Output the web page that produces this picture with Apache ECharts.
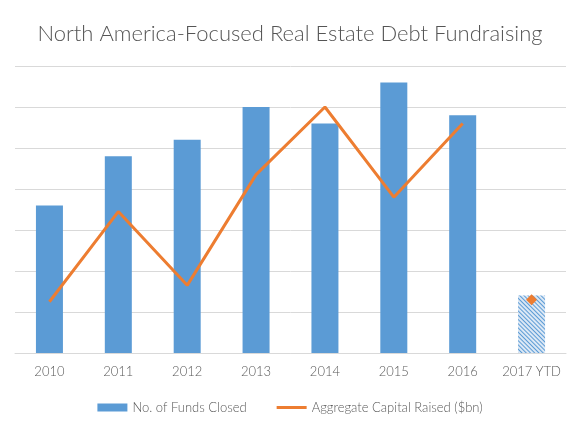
<!DOCTYPE html>
<html>
<head>
<meta charset="utf-8">
<script src="https://cdn.jsdelivr.net/npm/echarts@6/dist/echarts.min.js"></script>
<style>
  html, body { margin: 0; padding: 0; background: #fff; }
  #chart { width: 580px; height: 435px; }
</style>
</head>
<body>
<div id="chart"></div>
<script>
var years = ['2010', '2011', '2012', '2013', '2014', '2015', '2016', '2017 YTD'];
var fundsClosed = [18, 24, 26, 30, 28, 33, 29, 7];
var capitalRaised = [2.5, 6.9, 3.3, 8.7, 12.0, 7.6, 11.2, '-'];
var capitalYtd = ['-', '-', '-', '-', '-', '-', '-', 2.6];

var blue = '#5b9bd5', orange = '#ed7d31', grey = '#595959';

var chart = echarts.init(document.getElementById('chart'));

// last bar (year to date) is hatched
var barData = fundsClosed.map(function (v, i) {
  if (i < fundsClosed.length - 1) return v;
  return {
    value: v,
    itemStyle: {
      color: '#dce8f5',
      decal: {
        symbol: 'rect',
        color: blue,
        dashArrayX: [1, 0],
        dashArrayY: [1, 1.5],
        rotation: Math.PI / 4
      }
    }
  };
});

chart.setOption({
  animation: false,
  textStyle: { fontFamily: 'Lato, "Noto Sans", sans-serif' },
  title: {
    text: 'North America-Focused Real Estate Debt Fundraising',
    left: 'center',
    top: 18,
    textStyle: { color: '#555', fontSize: 22, fontWeight: 300 }
  },
  legend: {
    bottom: 16,
    left: 'center',
    itemGap: 30,
    itemWidth: 30,
    itemHeight: 8,
    textStyle: { color: grey, fontSize: 13, fontWeight: 300 },
    data: [
      { name: 'No. of Funds Closed', icon: 'rect' },
      { name: 'Aggregate Capital Raised ($bn)', icon: 'path://M0,0h30v3h-30z' }
    ]
  },
  grid: { left: 15, right: 14, top: 66, bottom: 82 },
  xAxis: {
    type: 'category',
    data: years,
    axisLine: { lineStyle: { color: '#d9d9d9' } },
    axisTick: { show: false },
    axisLabel: { color: grey, fontSize: 13, fontWeight: 300, margin: 12, interval: 0 }
  },
  yAxis: [
    {
      type: 'value', min: 0, max: 35, interval: 5,
      axisLabel: { show: false },
      splitLine: { lineStyle: { color: '#d9d9d9' } }
    },
    {
      type: 'value', min: 0, max: 14, interval: 2,
      axisLabel: { show: false },
      splitLine: { show: false }
    }
  ],
  series: [
    {
      name: 'No. of Funds Closed',
      type: 'bar',
      barWidth: 27,
      itemStyle: { color: blue },
      data: barData
    },
    {
      name: 'Aggregate Capital Raised ($bn)',
      type: 'line',
      yAxisIndex: 1,
      symbol: 'none',
      lineStyle: { color: orange, width: 3 },
      itemStyle: { color: orange },
      data: capitalRaised
    },
    {
      name: 'Aggregate Capital Raised ($bn)',
      type: 'line',
      yAxisIndex: 1,
      symbol: 'diamond',
      symbolSize: 11,
      showSymbol: true,
      itemStyle: { color: orange },
      lineStyle: { color: orange, width: 3 },
      data: capitalYtd
    }
  ]
});
</script>
</body>
</html>
